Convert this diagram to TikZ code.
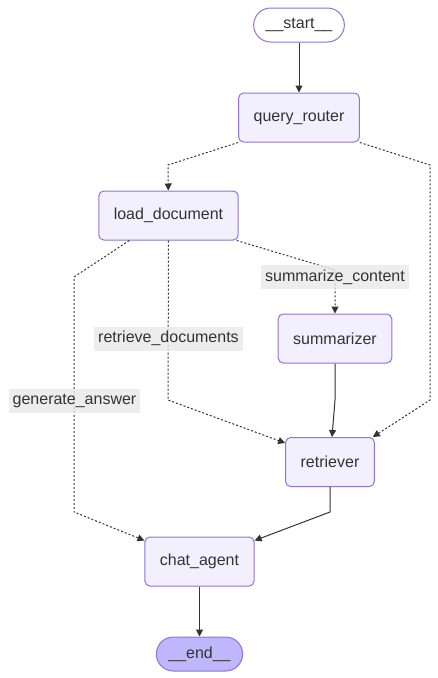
\documentclass[tikz,border=0pt]{standalone}
\usepackage{fontspec}
\setmainfont{Liberation Sans}
\usetikzlibrary{arrows.meta, positioning}
\definecolor{nodelilac}{RGB}{242, 240, 255}
\definecolor{borderpurple}{RGB}{147, 112, 219}
\definecolor{endpurple}{RGB}{191, 182, 252}
\definecolor{inkgrey}{RGB}{51, 51, 51}
\definecolor{labelgrey}{RGB}{232, 232, 232}
\tikzset{
  stepbox/.style={draw=borderpurple, fill=nodelilac, line width=1pt, rounded corners=5pt, inner xsep=15pt, minimum height=49pt},
  pill/.style={draw=borderpurple, line width=1pt, rounded corners=17pt, inner xsep=12pt, minimum height=34pt},
  edgelabel/.style={fill=labelgrey, fill opacity=0.8, text opacity=1, inner xsep=4pt, inner ysep=0pt, minimum height=24pt},
  flowarrow/.style={-{Triangle[length=7pt, width=7pt]}, line width=1pt, inkgrey},
  dotarrow/.style={flowarrow, dash pattern=on 2pt off 2pt}
}
\begin{document}
\begin{tikzpicture}[x=1pt, y=-1pt, font=\fontsize{16}{19}\selectfont, text=inkgrey]
    \useasboundingbox (0,0) rectangle (438,678);
    \node (start) [pill, fill=white] at (299,25) {\_\_start\_\_};
    \node (router) [stepbox, below=50pt of start] {query\_router};
    \node (load) [stepbox] at (168.5,215.5) {load\_document};
    \node (summ) [stepbox] at (335,338.5) {summarizer};
    \node (retr) [stepbox] at (330,462) {retriever};
    \node (chat) [stepbox] at (199.5,561.5) {chat\_agent};
    \node (end) [pill, fill=endpurple, below=50pt of chat] {\_\_end\_\_};
    % edges
    \draw[flowarrow] (start) -- (router);
    \draw[dotarrow] (router.south west) -- (168,165) -- (load);
    \draw[dotarrow] (router.south east) -- (430,165) -- (430,400) -- ([xshift=-2pt]retr.north east);
    \draw[dotarrow] ([xshift=-2pt]load.south east) -- (335,270) -- (summ);
    \draw[dotarrow] (load.south) -- (168,400) -- ([yshift=-6pt]retr.north west);
    \draw[dotarrow] ([xshift=31pt]load.south west) -- (74,277) -- (74,512) -- ([yshift=-4pt]chat.north west);
    \draw[flowarrow] (summ) -- (335,400) -- ([xshift=2pt]retr.north);
    \draw[flowarrow] (retr) -- (330,512) -- ([yshift=-4pt]chat.north east);
    \draw[flowarrow] (chat) -- (end);
    % edge labels
    \node (lsumm) [edgelabel] at (335,277) {summarize\_content};
    \node (lretr) [edgelabel] at (168.5,338.5) {retrieve\_documents};
    \node (lgen) [edgelabel] at (74.5,400.5) {generate\_answer};
\end{tikzpicture}
\end{document}
